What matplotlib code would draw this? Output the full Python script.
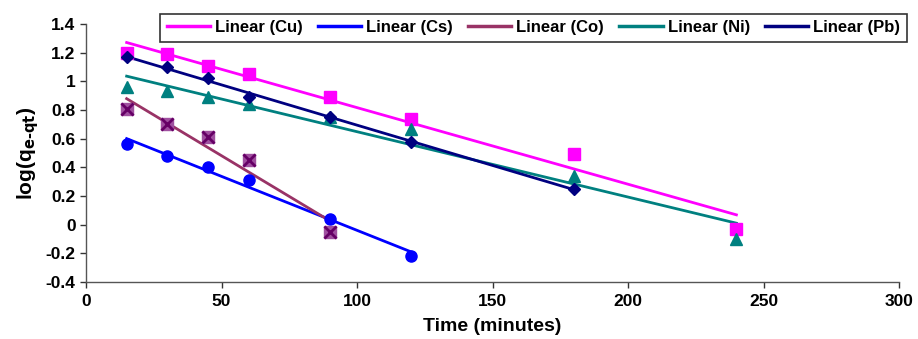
import numpy as np
import matplotlib
matplotlib.use("Agg")
import matplotlib.pyplot as plt

plt.rcParams['font.family'] = ['Liberation Sans', 'DejaVu Sans']
plt.rcParams['font.weight'] = 'bold'

# Data (time in minutes, log(qe-qt))
cu_t = [15, 30, 45, 60, 90, 120, 180, 240]
cu_y = [1.20, 1.19, 1.11, 1.05, 0.89, 0.74, 0.49, -0.03]
cs_t = [15, 30, 45, 60, 90, 120]
cs_y = [0.56, 0.48, 0.40, 0.31, 0.04, -0.22]
co_t = [15, 30, 45, 60, 90]
co_y = [0.81, 0.70, 0.61, 0.45, -0.05]
ni_t = [15, 30, 45, 60, 90, 120, 180, 240]
ni_y = [0.96, 0.93, 0.89, 0.84, 0.75, 0.67, 0.34, -0.10]
pb_t = [15, 30, 45, 60, 90, 120, 180]
pb_y = [1.17, 1.10, 1.02, 0.89, 0.75, 0.58, 0.25]

x_ticks = [0, 50, 100, 150, 200, 250, 300]
y_ticks = [-0.4, -0.2, 0, 0.2, 0.4, 0.6, 0.8, 1, 1.2, 1.4]
y_ticklabels = ['-0.4', '-0.2', '0', '0.2', '0.4', '0.6', '0.8', '1', '1.2', '1.4']

fig = plt.figure(figsize=(9.18, 3.39), dpi=100)
ax = fig.add_axes([86/918, 1-282/339, (899-86)/918, (282-24)/339])

def trend(t, y):
    t = np.asarray(t, float); y = np.asarray(y, float)
    m, b = np.polyfit(t, y, 1)
    xs = np.array([t.min(), t.max()])
    return xs, m*xs + b

series = [
    ('Cu', cu_t, cu_y, '#FF00FF', dict(marker='s', color='#FF00FF', ms=8)),
    ('Cs', cs_t, cs_y, '#0000FF', dict(marker='o', color='#0000FF', ms=8)),
    ('Co', co_t, co_y, '#993366', None),
    ('Ni', ni_t, ni_y, '#008080', dict(marker='^', color='#008080', ms=8)),
    ('Pb', pb_t, pb_y, '#000080', dict(marker='D', color='#000080', ms=6.5)),
]

handles = []
for name, t, y, lc, mk in series:
    if mk is None:
        ax.plot(t, y, linestyle='none', marker='s', color='#A050A0', ms=8, zorder=3)
        ax.plot(t, y, linestyle='none', marker='x', color='#660066', ms=8, mew=2, zorder=4)
    else:
        ax.plot(t, y, linestyle='none', zorder=3, **mk)
    xs, ys = trend(t, y)
    h, = ax.plot(xs, ys, color=lc, lw=2.0, zorder=2, label=f'Linear ({name})')
    handles.append(h)

ax.set_xlim(0, 300)
ax.set_ylim(-0.4, 1.4)
ax.set_xticks(x_ticks)
ax.set_yticks(y_ticks)
ax.set_yticklabels(y_ticklabels)
ax.tick_params(axis='both', direction='out', length=4, width=1, colors='#333333',
               labelcolor='black', labelsize=12.5)
ax.tick_params(axis='x', pad=5)
for lab in ax.get_xticklabels() + ax.get_yticklabels():
    lab.set_fontweight('bold')
for s in ['top', 'right']:
    ax.spines[s].set_visible(False)
for s in ['left', 'bottom']:
    ax.spines[s].set_color('#555555')
    ax.spines[s].set_linewidth(1)

ax.set_xlabel('Time (minutes)', fontsize=14, fontweight='bold', labelpad=6)
ax.set_ylabel(r'log(q$_{\mathbf{e\text{-}qt}}$)', fontsize=15, fontweight='bold', labelpad=3)

leg = fig.legend(handles=handles, loc='lower left',
                 bbox_to_anchor=(160/918, 1-42/339, (907-160)/918, 33/339),
                 mode='expand', ncol=5, frameon=True, fancybox=False,
                 edgecolor='black', handlelength=2.6, handletextpad=0.3,
                 borderaxespad=0, prop={'weight': 'bold', 'size': 12})
leg.get_frame().set_linewidth(1.2)
for l in leg.get_lines():
    l.set_linewidth(2.5)

fig.savefig('out.png', dpi=100)
